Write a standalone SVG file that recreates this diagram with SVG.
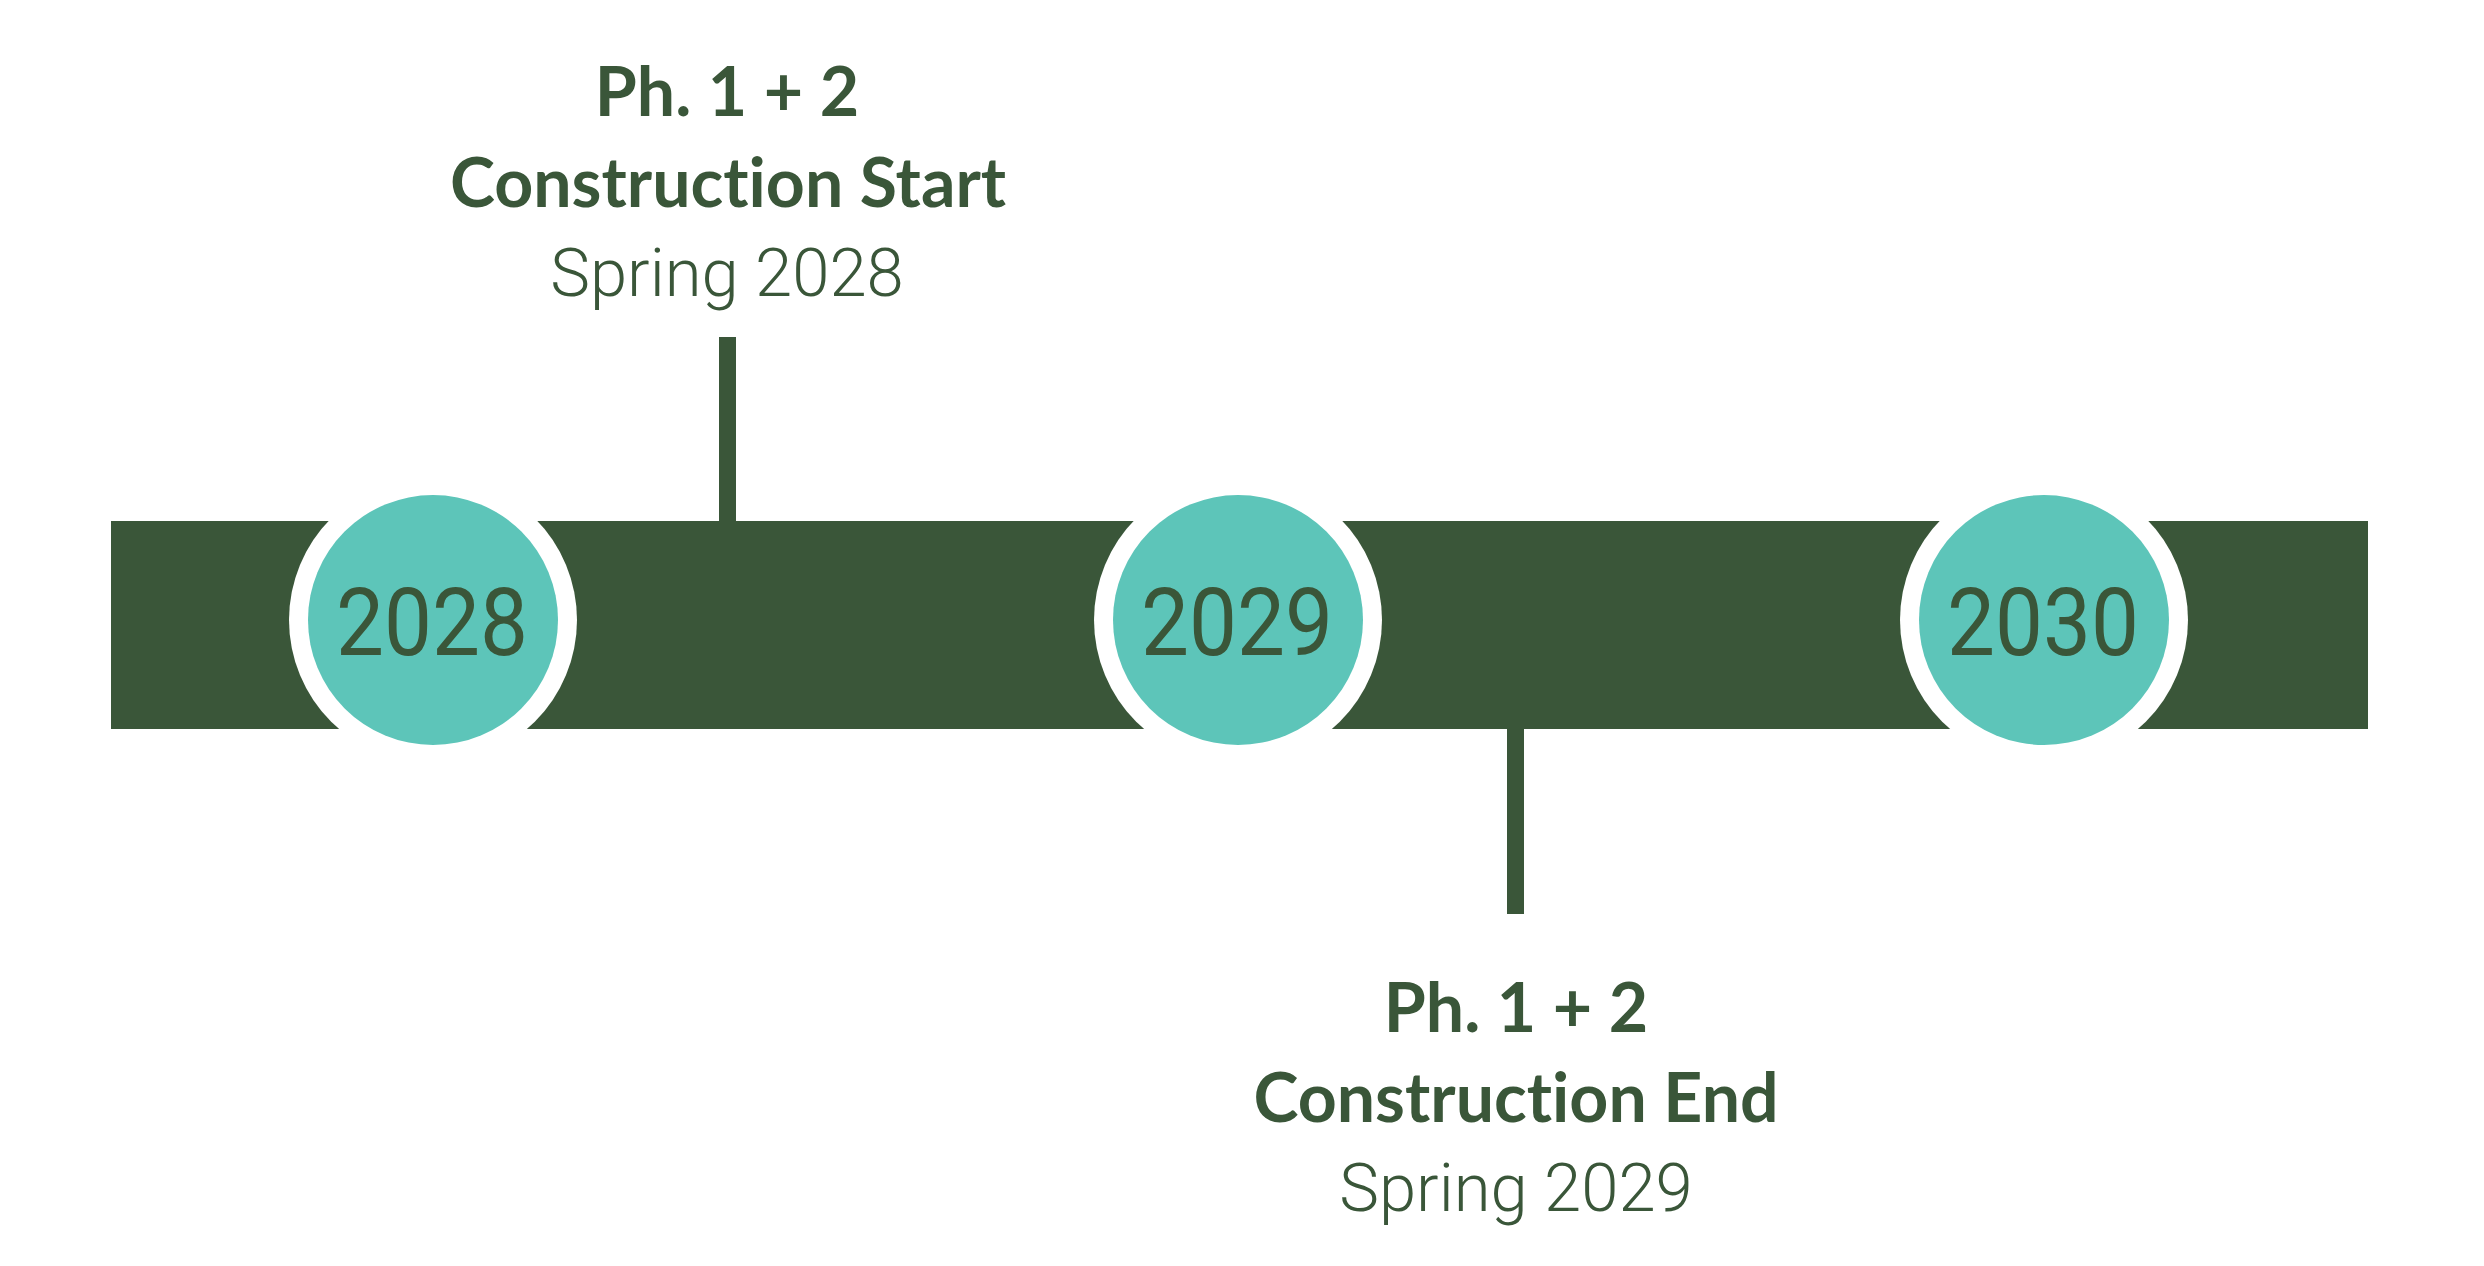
<svg xmlns="http://www.w3.org/2000/svg" width="2484" height="1266" viewBox="0 0 2484 1266">
<style>
.bar{fill:#3A5639}
.ring{fill:#FFFFFF}
.dot{fill:#5DC5B9}
.year{font-family:Roboto,"Liberation Sans",sans-serif;font-weight:400;font-size:94px;fill:#3A5639;text-anchor:middle}
.title{font-family:Lato,"Liberation Sans",sans-serif;font-weight:700;font-size:68px;fill:#3A5639;text-anchor:middle;font-variant-ligatures:none}
.date{font-family:Roboto,"Liberation Sans",sans-serif;font-weight:300;font-size:67px;fill:#3A5639;text-anchor:middle}
</style>
<rect width="2484" height="1266" fill="#FFFFFF"/>
<g id="timeline-bar">
<rect class="bar" x="111" y="521" width="2257" height="208"/>
</g>
<g id="connectors">
<rect class="bar" x="719" y="337" width="17" height="186"/>
<rect class="bar" x="1507" y="727" width="17" height="187"/>
</g>
<g id="node-2028">
<circle class="ring" cx="433" cy="620" r="144"/>
<circle class="dot" cx="433" cy="620" r="125"/>
<text class="year" x="432" y="655" textLength="192" lengthAdjust="spacingAndGlyphs">2028</text>
</g>
<g id="node-2029">
<circle class="ring" cx="1238" cy="620" r="144"/>
<circle class="dot" cx="1238" cy="620" r="125"/>
<text class="year" x="1237" y="655" textLength="192" lengthAdjust="spacingAndGlyphs">2029</text>
</g>
<g id="node-2030">
<circle class="ring" cx="2044" cy="620" r="144"/>
<circle class="dot" cx="2044" cy="620" r="125"/>
<text class="year" x="2043" y="655" textLength="192" lengthAdjust="spacingAndGlyphs">2030</text>
</g>
<g id="label-start">
<text class="title" x="727" y="116">Ph. 1 + 2</text>
<text class="title" x="728" y="207">Construction Start</text>
<text class="date" x="727" y="296">Spring 2028</text>
</g>
<g id="label-end">
<text class="title" x="1516" y="1032">Ph. 1 + 2</text>
<text class="title" x="1516" y="1122">Construction End</text>
<text class="date" x="1516" y="1211">Spring 2029</text>
</g>
</svg>
